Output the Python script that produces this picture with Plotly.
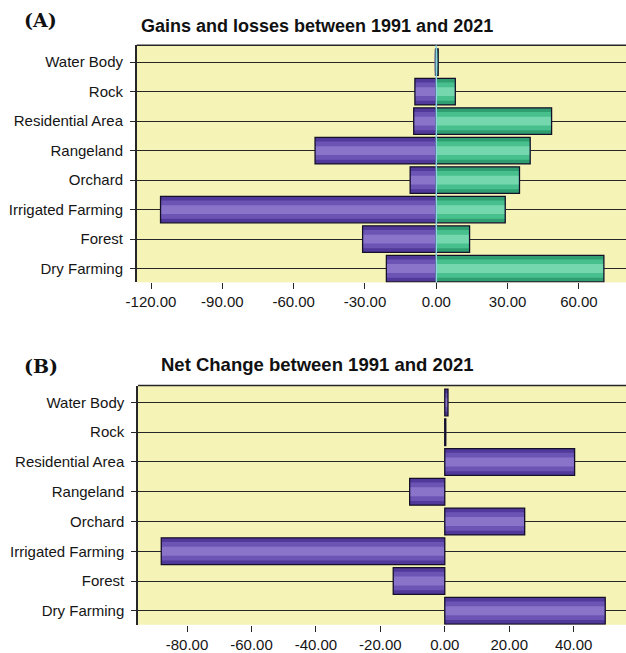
import plotly.graph_objects as go

categories = ["Dry Farming", "Forest", "Irrigated Farming", "Orchard",
              "Rangeland", "Residential Area", "Rock", "Water Body"]
losses = [-21.0, -31.0, -116.0, -11.0, -51.0, -9.5, -9.0, -0.3]
gains = [70.5, 14.0, 29.0, 35.0, 39.5, 48.5, 8.0, 0.8]
net_change = [49.8, -16.0, -88.0, 24.8, -10.9, 40.3, 0.3, 1.0]

a_ticks = [-120, -90, -60, -30, 0, 30, 60]
a_ticklabels = ["-120.00", "-90.00", "-60.00", "-30.00", "0.00", "30.00", "60.00"]
b_ticks = [-80, -60, -40, -20, 0, 20, 40]
b_ticklabels = ["-80.00", "-60.00", "-40.00", "-20.00", "0.00", "20.00", "40.00"]

PURPLE_LAYERS = ["#50399a", "#6b54b4", "#8a74c9"]
GREEN_LAYERS = ["#2f9f71", "#47c08e", "#74d7ad"]
LAYER_WIDTHS = [0.9, 0.62, 0.3]
BG = "#f6f3b6"
DARK = "#262626"
FONT = "Liberation Sans, Arial, sans-serif"

fig = go.Figure()


def shaded_bars(values, colors, xa, ya):
    for col, w in zip(colors, LAYER_WIDTHS):
        fig.add_trace(go.Bar(y=categories, x=values, orientation="h", width=w,
                             marker=dict(color=col, line=dict(width=0)),
                             xaxis=xa, yaxis=ya, showlegend=False, hoverinfo="skip"))
    fig.add_trace(go.Bar(y=categories, x=values, orientation="h", width=0.9,
                         marker=dict(color="rgba(0,0,0,0)", line=dict(color="#15102a", width=1.3)),
                         xaxis=xa, yaxis=ya, showlegend=False))


shaded_bars(losses, PURPLE_LAYERS, "x", "y")
shaded_bars(gains, GREEN_LAYERS, "x", "y")
shaded_bars(net_change, PURPLE_LAYERS, "x2", "y2")

axis_common_y = dict(
    type="category", categoryorder="array", categoryarray=categories,
    range=[-0.47, 7.57], showgrid=True, gridcolor=DARK, gridwidth=1.3,
    showline=True, linecolor=DARK, linewidth=1.5,
    ticks="outside", ticklen=5, tickcolor=DARK, ticklabelstandoff=4,
    tickfont=dict(family=FONT, size=15, color="#151515"),
    zeroline=False, fixedrange=True,
)
axis_common_x = dict(
    showgrid=False, zeroline=False, showline=False,
    ticks="outside", ticklen=6, tickcolor=DARK,
    tickfont=dict(family=FONT, size=15, color="#151515"),
)

fig.update_layout(
    width=626, height=653,
    margin=dict(l=0, r=0, t=0, b=0),
    paper_bgcolor="white", plot_bgcolor=BG,
    barmode="overlay",
    xaxis=dict(domain=[0.2045, 1.0], anchor="y", range=[-126, 79.8],
               tickvals=a_ticks, ticktext=a_ticklabels, **axis_common_x),
    yaxis=dict(domain=[0.5662, 0.9303], anchor="x", **axis_common_y),
    xaxis2=dict(domain=[0.2066, 1.0], anchor="y2", range=[-95.2, 56.25],
                tickvals=b_ticks, ticktext=b_ticklabels, **axis_common_x),
    yaxis2=dict(domain=[0.0403, 0.4078], anchor="x2", **axis_common_y),
    shapes=[
        dict(type="line", xref="x domain", yref="y domain", x0=0, x1=1, y0=1, y1=1,
             line=dict(color=DARK, width=1.5)),
        dict(type="line", xref="x2 domain", yref="y2 domain", x0=0, x1=1, y0=1, y1=1,
             line=dict(color=DARK, width=1.5)),
        dict(type="line", xref="x", yref="y domain", x0=0, x1=0, y0=0, y1=1,
             line=dict(color="#8fd3e6", width=1.5), layer="above"),
    ],
    annotations=[
        dict(text="<b>(A)</b>", xref="paper", yref="paper", x=11/626, y=1-20/653,
             xanchor="left", yanchor="middle", showarrow=False,
             font=dict(family="DejaVu Serif", size=19, color="#111")),
        dict(text="<b>Gains and losses between 1991 and 2021</b>", xref="paper", yref="paper",
             x=311/626, y=1-26/653, xanchor="center", yanchor="middle", showarrow=False,
             font=dict(family=FONT, size=18, color="#111")),
        dict(text="<b>(B)</b>", xref="paper", yref="paper", x=11/626, y=1-367/653,
             xanchor="left", yanchor="middle", showarrow=False,
             font=dict(family="DejaVu Serif", size=19, color="#111")),
        dict(text="<b>Net Change between 1991 and 2021</b>", xref="paper", yref="paper",
             x=312/626, y=1-366/653, xanchor="center", yanchor="middle", showarrow=False,
             font=dict(family=FONT, size=18.5, color="#111")),
    ],
)

fig.write_html("out.html", config={"displayModeBar": False},
               post_script="document.body.style.margin='0';")
